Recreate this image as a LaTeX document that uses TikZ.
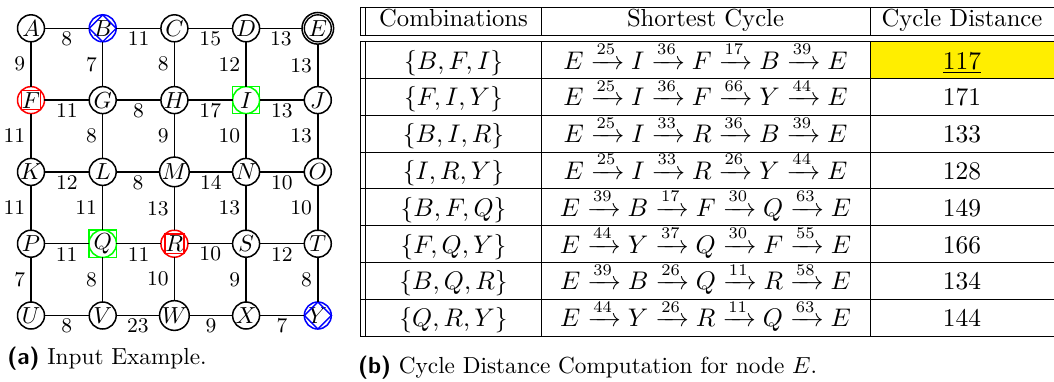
\documentclass[tikz,border=0pt]{standalone}
\usepackage{amsmath}
\definecolor{hiyellow}{RGB}{255,238,0}
\begin{document}
\begin{tikzpicture}[x=0.43pt, y=-0.43pt,
  vtx/.style={circle, draw, line width=0.65pt, minimum size=11.6pt, inner sep=0pt, outer sep=0pt},
  edge/.style={line width=0.65pt},
  hl/.style={midway, yshift=-4.5pt, font=\small, inner sep=0pt},
  vl/.style={midway, anchor=east, xshift=-2.2pt, font=\small, inner sep=0pt},
  deco/.style={line width=0.6pt},
  rule/.style={line width=0.4pt},
  cell/.style={anchor=base, inner sep=0pt, font=\fontsize{10.6pt}{12.7pt}\selectfont},
  captxt/.style={anchor=base west, inner sep=0pt}]
\useasboundingbox (0,0) rectangle (1054,381);

% ---------- graph ----------
\node[vtx] (A) at (31,28.3) {$A$};
\node[vtx, draw=blue] (B) at (102.7,28.3) {$B$};
\node[vtx] (C) at (174.4,28.3) {$C$};
\node[vtx] (D) at (246.1,28.3) {$D$};
\node[vtx, minimum size=13.6pt] (E) at (317.8,28.3) {$E$};
\node[vtx, draw=red] (F) at (31,100.1) {$F$};
\node[vtx] (G) at (102.7,100.1) {$G$};
\node[vtx] (H) at (174.4,100.1) {$H$};
\node[vtx, draw=green] (I) at (246.1,100.1) {$I$};
\node[vtx] (J) at (317.8,100.1) {$J$};
\node[vtx] (K) at (31,171.9) {$K$};
\node[vtx] (L) at (102.7,171.9) {$L$};
\node[vtx] (M) at (174.4,171.9) {$M$};
\node[vtx] (N) at (246.1,171.9) {$N$};
\node[vtx] (O) at (317.8,171.9) {$O$};
\node[vtx] (P) at (31,243.7) {$P$};
\node[vtx, draw=green] (Q) at (102.7,243.7) {$Q$};
\node[vtx, draw=red] (R) at (174.4,243.7) {$R$};
\node[vtx] (S) at (246.1,243.7) {$S$};
\node[vtx] (T) at (317.8,243.7) {$T$};
\node[vtx] (U) at (31,315.5) {$U$};
\node[vtx] (V) at (102.7,315.5) {$V$};
\node[vtx] (W) at (174.4,315.5) {$W$};
\node[vtx] (X) at (246.1,315.5) {$X$};
\node[vtx, draw=blue] (Y) at (317.8,315.5) {$Y$};

% decorations
\draw[deco] (E.center) circle[radius=5.8pt];
\draw[deco, blue] (B.north) -- (B.east) -- (B.south) -- (B.west) -- cycle;
\draw[deco, blue] (Y.north) -- (Y.east) -- (Y.south) -- (Y.west) -- cycle;
\draw[deco, red] (F.north east) rectangle (F.south west);
\draw[deco, red] (R.north east) rectangle (R.south west);
\draw[deco, green] (I.west |- I.north) rectangle (I.east |- I.south);
\draw[deco, green] (Q.west |- Q.north) rectangle (Q.east |- Q.south);

% horizontal edges
\draw[edge] (A) -- node[hl] {8} (B);
\draw[edge] (B) -- node[hl] {11} (C);
\draw[edge] (C) -- node[hl] {15} (D);
\draw[edge] (D) -- node[hl] {13} (E);
\draw[edge] (F) -- node[hl] {11} (G);
\draw[edge] (G) -- node[hl] {8} (H);
\draw[edge] (H) -- node[hl] {17} (I);
\draw[edge] (I) -- node[hl] {13} (J);
\draw[edge] (K) -- node[hl] {12} (L);
\draw[edge] (L) -- node[hl] {8} (M);
\draw[edge] (M) -- node[hl] {14} (N);
\draw[edge] (N) -- node[hl] {10} (O);
\draw[edge] (P) -- node[hl] {11} (Q);
\draw[edge] (Q) -- node[hl] {11} (R);
\draw[edge] (R) -- node[hl] {10} (S);
\draw[edge] (S) -- node[hl] {12} (T);
\draw[edge] (U) -- node[hl] {8} (V);
\draw[edge] (V) -- node[hl] {23} (W);
\draw[edge] (W) -- node[hl] {9} (X);
\draw[edge] (X) -- node[hl] {7} (Y);
% vertical edges
\draw[edge] (A) -- node[vl] {9} (F);
\draw[edge] (B) -- node[vl] {7} (G);
\draw[edge] (C) -- node[vl] {8} (H);
\draw[edge] (D) -- node[vl] {12} (I);
\draw[edge] (E) -- node[vl] {13} (J);
\draw[edge] (F) -- node[vl] {11} (K);
\draw[edge] (G) -- node[vl] {8} (L);
\draw[edge] (H) -- node[vl] {9} (M);
\draw[edge] (I) -- node[vl] {10} (N);
\draw[edge] (J) -- node[vl] {13} (O);
\draw[edge] (K) -- node[vl] {11} (P);
\draw[edge] (L) -- node[vl] {11} (Q);
\draw[edge] (M) -- node[vl] {13} (R);
\draw[edge] (N) -- node[vl] {13} (S);
\draw[edge] (O) -- node[vl] {10} (T);
\draw[edge] (P) -- node[vl] {7} (U);
\draw[edge] (Q) -- node[vl] {8} (V);
\draw[edge] (R) -- node[vl] {10} (W);
\draw[edge] (S) -- node[vl] {9} (X);
\draw[edge] (T) -- node[vl] {8} (Y);

\node[captxt] (capa) at (7,364.3) {\textsf{\textbf{(a)}} Input Example.};

% ---------- table ----------
\fill[hiyellow] (870.5,41.5) rectangle (1054,79);
\draw[rule] (360,7) -- (1054,7);
\draw[rule] (360,35) -- (1054,35);
\draw[rule] (360,41.5) -- (1054,41.5);
\foreach \k in {1,...,8} {
  \draw[rule] (360,{41.5+36.85*\k}) -- (1054,{41.5+36.85*\k});
}
\foreach \xx in {360,365.7,541.5,870.5} {
  \draw[rule] (\xx,7) -- (\xx,35);
  \draw[rule] (\xx,41.5) -- (\xx,336.3);
}

\node[cell] (h1) at (453.5,26.5) {Combinations};
\node[cell] (h2) at (705.5,26.5) {Shortest Cycle};
\node[cell] (h3) at (962,26.5) {Cycle Distance};

\foreach \i/\comb/\cyc/\dist in {
  1/{\{B,F,I\}}/{E \xrightarrow{25} I \xrightarrow{36} F \xrightarrow{17} B \xrightarrow{39} E}/{\underline{117}},
  2/{\{F,I,Y\}}/{E \xrightarrow{25} I \xrightarrow{36} F \xrightarrow{66} Y \xrightarrow{44} E}/{171},
  3/{\{B,I,R\}}/{E \xrightarrow{25} I \xrightarrow{33} R \xrightarrow{36} B \xrightarrow{39} E}/{133},
  4/{\{I,R,Y\}}/{E \xrightarrow{25} I \xrightarrow{33} R \xrightarrow{26} Y \xrightarrow{44} E}/{128},
  5/{\{B,F,Q\}}/{E \xrightarrow{39} B \xrightarrow{17} F \xrightarrow{30} Q \xrightarrow{63} E}/{149},
  6/{\{F,Q,Y\}}/{E \xrightarrow{44} Y \xrightarrow{37} Q \xrightarrow{30} F \xrightarrow{55} E}/{166},
  7/{\{B,Q,R\}}/{E \xrightarrow{39} B \xrightarrow{26} Q \xrightarrow{11} R \xrightarrow{58} E}/{134},
  8/{\{Q,R,Y\}}/{E \xrightarrow{44} Y \xrightarrow{26} R \xrightarrow{11} Q \xrightarrow{63} E}/{144}} {
  \node[cell] (comb\i) at (453.5,{69+36.8*(\i-1)}) {$\comb$};
  \node[cell] (cyc\i) at (705.5,{69+36.8*(\i-1)}) {$\cyc$};
  \node[cell] (dist\i) at (962,{69+36.8*(\i-1)}) {$\dist$};
}

\node[captxt] (capb) at (357.7,373.5) {\textsf{\textbf{(b)}} Cycle Distance Computation for node $E$.};
\end{tikzpicture}
\end{document}
